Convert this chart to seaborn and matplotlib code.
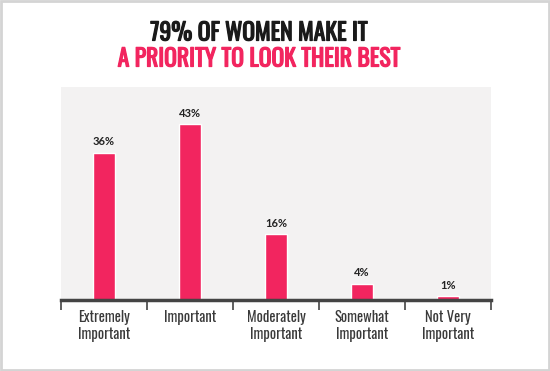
import matplotlib
matplotlib.use('Agg')
import matplotlib.pyplot as plt
import matplotlib.patheffects as pe
import seaborn as sns
import pandas as pd
from matplotlib.patches import Rectangle

categories = ['Extremely\nImportant', 'Important', 'Moderately\nImportant',
              'Somewhat\nImportant', 'Not Very\nImportant']
values = [36, 43, 16, 4, 1]
value_labels = ['36%', '43%', '16%', '4%', '1%']

PINK = '#f2255f'
NARROW = ['Oswald', 'Barlow Condensed', 'DejaVu Sans']

sns.set_style('white')
plt.rcParams['font.family'] = ['Lato', 'DejaVu Sans']

df = pd.DataFrame({'category': categories, 'value': values})

fig = plt.figure(figsize=(5.5, 3.71), dpi=100)
ax = fig.add_axes([61 / 550, 71 / 371, 430 / 550, 213 / 371])
ax.set_facecolor('#f3f2f2')

sns.barplot(data=df, x='category', y='value', color=PINK, width=0.25,
            saturation=1, ax=ax)

ax.set_xlim(-0.5, 4.5)
ax.set_ylim(0, 52)

for i, (v, lab) in enumerate(zip(values, value_labels)):
    ax.text(i, v + 1.3, lab, ha='center', va='bottom', fontsize=8,
            fontweight='bold', color='#222222')

# axis styling
for s in ['top', 'left', 'right']:
    ax.spines[s].set_visible(False)
ax.spines['bottom'].set_color('#444444')
ax.spines['bottom'].set_linewidth(2.5)
ax.set_yticks([])
ax.set_xlabel('')
ax.set_ylabel('')
ax.set_xticks(range(len(categories)))
ax.set_xticklabels(categories, fontsize=10.5, color='#3a3a3a',
                   family=NARROW, linespacing=1.2)
ax.set_xticks([x - 0.5 for x in range(len(categories) + 1)], minor=True)
ax.tick_params(axis='x', which='major', bottom=True, length=0, pad=7)
ax.tick_params(axis='x', which='minor', bottom=True, length=7, width=1.2,
               color='#444444', direction='out')

# title (Oswald is only available in regular weight, thicken with a stroke)
fig.text(259 / 550, 1 - 33 / 371, '79% OF WOMEN MAKE IT', ha='center',
         va='center', fontsize=17, color='#1a1a1a', family=NARROW,
         path_effects=[pe.withStroke(linewidth=0.9, foreground='#1a1a1a')])
fig.text(259 / 550, 1 - 59 / 371, 'A PRIORITY TO LOOK THEIR BEST',
         ha='center', va='center', fontsize=17, color=PINK, family=NARROW,
         path_effects=[pe.withStroke(linewidth=0.9, foreground=PINK)])

# outer frame
fig.patches.append(Rectangle((0.001, 0.003), 0.997, 0.994,
                             transform=fig.transFigure, fill=False,
                             edgecolor='#d4d4d4', linewidth=2))

fig.savefig('out.png', dpi=100)
